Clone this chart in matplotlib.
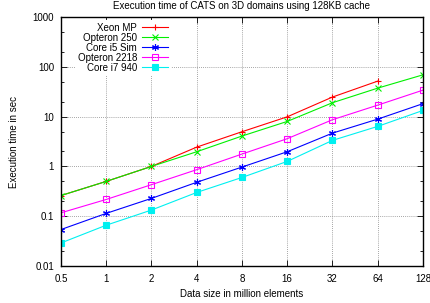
import matplotlib
matplotlib.use("Agg")
import matplotlib.pyplot as plt
from matplotlib.ticker import LogLocator, NullFormatter, FixedLocator, FixedFormatter

plt.rcParams['font.family'] = ['Liberation Sans', 'DejaVu Sans']

sizes = [0.5, 1, 2, 4, 8, 16, 32, 64, 128]
size_labels = ['0.5', '1', '2', '4', '8', '16', '32', '64', '128']

xeon_mp = [0.26, 0.50, 1.0, 2.44, 4.97, 9.9, 24.7, 51.6]
opteron_250 = [0.26, 0.50, 1.0, 1.97, 4.07, 8.0, 19.0, 37.3, 69.0]
core_i5_sim = [0.054, 0.114, 0.228, 0.48, 0.97, 1.97, 4.66, 8.9, 18.2]
opteron_2218 = [0.117, 0.217, 0.43, 0.86, 1.77, 3.6, 8.66, 17.0, 34.0]
core_i7_940 = [0.029, 0.066, 0.133, 0.30, 0.60, 1.26, 3.33, 6.36, 13.3]

series = [
    ("Xeon MP", xeon_mp, '#ff0000', '+', 'none'),
    ("Opteron 250", opteron_250, '#00f000', 'x', 'none'),
    ("Core i5 Sim", core_i5_sim, '#0000ff', (6, 2, 0), 'none'),
    ("Opteron 2218", opteron_2218, '#ff00ff', 's', 'none'),
    ("Core i7 940", core_i7_940, '#00f0f0', 's', 'full'),
]

fig = plt.figure(figsize=(4.31, 3.03), dpi=100)
ax = fig.add_axes([0.1415, 0.1221, 0.8399, 0.8218])

for name, vals, col, mk, fill in series:
    ax.plot(sizes[:len(vals)], vals, color=col, lw=0.8, marker=mk,
            markersize=5 if mk != 's' else 4.8,
            markerfacecolor=(col if fill == 'full' else 'none'),
            markeredgecolor=col, markeredgewidth=0.8, label=name)

ax.set_xscale('log', base=2)
ax.set_yscale('log')
ax.set_xlim(0.5, 128)
ax.set_ylim(0.01, 1000)
ax.xaxis.set_major_locator(FixedLocator(sizes))
ax.xaxis.set_major_formatter(FixedFormatter(size_labels))
ax.xaxis.set_minor_locator(FixedLocator([]))
ax.yaxis.set_major_locator(FixedLocator([0.01, 0.1, 1, 10, 100, 1000]))
ax.yaxis.set_major_formatter(FixedFormatter(['0.01', '0.1', '1', '10', '100', '1000']))
ax.yaxis.set_minor_locator(LogLocator(base=10, subs=(2, 5)))
ax.yaxis.set_minor_formatter(NullFormatter())

ax.tick_params(which='both', direction='in', top=True, right=True, labelsize=7)
ax.tick_params(axis='x', pad=6)
ax.tick_params(axis='y', pad=5)
ax.tick_params(which='major', length=4, width=0.6)
ax.tick_params(which='minor', length=2.5, width=0.6)
for sp in ax.spines.values():
    sp.set_linewidth(1.0)

ax.grid(True, which='major', color='#888888', linestyle=(0, (1, 1.5)), lw=0.6)
ax.set_axisbelow(True)

ax.set_title("Execution time of CATS on 3D domains using 128KB cache", fontsize=7, pad=6)
ax.set_xlabel("Data size in million elements", fontsize=7, labelpad=3)
ax.set_ylabel("Execution time in sec", fontsize=7, labelpad=10)

leg = ax.legend(loc='upper left', bbox_to_anchor=(0.03, 1.0), fontsize=7, markerfirst=False,
                frameon=True, edgecolor='none', facecolor='white', framealpha=1.0, fancybox=False,
                handlelength=2.7, handletextpad=0.5, labelspacing=0.0, borderaxespad=0.3, borderpad=0.3)
for col in leg._legend_handle_box.get_children():
    col.align = 'right'

fig.savefig("out.png", dpi=100)
